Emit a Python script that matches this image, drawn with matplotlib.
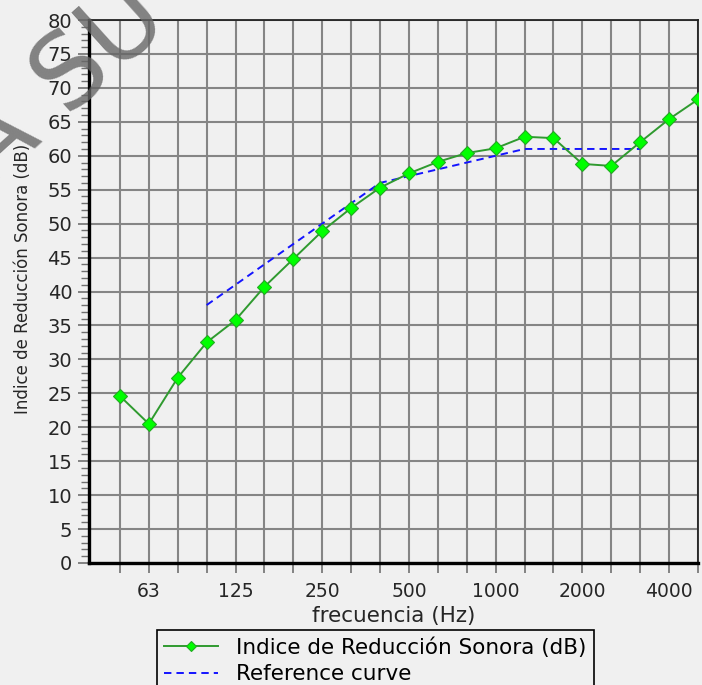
import matplotlib
matplotlib.use("Agg")
import matplotlib.pyplot as plt
from matplotlib.ticker import MultipleLocator, FixedLocator

freqs = ["50", "63", "80", "100", "125", "160", "200", "250", "315", "400", "500",
         "630", "800", "1000", "1250", "1600", "2000", "2500", "3150", "4000", "5000"]
r_values = [24.6, 20.5, 27.3, 32.5, 35.8, 40.7, 44.8, 48.9, 52.3, 55.3, 57.4,
            59.1, 60.4, 61.1, 62.8, 62.6, 58.8, 58.5, 62.0, 65.4, 68.3]
ref_freqs = ["100", "125", "160", "200", "250", "315", "400", "500", "630", "800",
             "1000", "1250", "1600", "2000", "2500", "3150"]
ref_values = [38, 41, 44, 47, 50, 53, 56, 57, 58, 59, 60, 61, 61, 61, 61, 61]
tick_labels = ["63", "125", "250", "500", "1000", "2000", "4000"]

bg = "#f0f0f0"
txt = "#262626"
W, H = 702, 685
fig = plt.figure(figsize=(W / 100, H / 100), dpi=100, facecolor=bg)
ax = fig.add_axes([89 / W, 1 - 563 / H, (698 - 89) / W, (563 - 20) / H], facecolor=bg)

xi = list(range(len(freqs)))
ref_x = [freqs.index(f) for f in ref_freqs]

ln1, = ax.plot(xi, r_values, color="#2f9a2f", lw=1.4, marker="D", markersize=7,
               markerfacecolor="#00ff00", markeredgecolor="#22aa22", markeredgewidth=0.8,
               zorder=4, label="Indice de Reducción Sonora (dB)")
ln2, = ax.plot(ref_x, ref_values, color="#1414ff", lw=1.4, ls=(0, (3.8, 2.6)), zorder=3,
               label="Reference curve")

ax.set_xlim(-1.07, 20)
ax.set_ylim(0, 80)
ax.yaxis.set_major_locator(MultipleLocator(5))
ax.yaxis.set_minor_locator(MultipleLocator(1))
ax.xaxis.set_major_locator(FixedLocator(xi))
ax.set_xticklabels([f if f in tick_labels else "" for f in freqs])

ax.grid(True, which="major", color="#858585", lw=1.5)
ax.set_axisbelow(True)

for s in ["left", "bottom"]:
    ax.spines[s].set_linewidth(2.4)
    ax.spines[s].set_color("black")
for s in ["top", "right"]:
    ax.spines[s].set_linewidth(1.3)
    ax.spines[s].set_color("#222222")

ax.tick_params(axis="y", which="major", length=8, width=1.2, color="#707070",
               labelsize=14, labelcolor=txt, pad=4)
ax.tick_params(axis="y", which="minor", length=6, width=1.0, color="#707070")
ax.tick_params(axis="x", which="major", length=7, width=1.2, color="#707070",
               labelsize=13.5, labelcolor=txt, pad=7)

ax.set_xlabel("frecuencia (Hz)", fontsize=15.5, color=txt, labelpad=3)
ax.set_ylabel("Indice de Reducción Sonora (dB)", fontsize=12, color=txt)
ax.yaxis.set_label_coords(-0.094, 0.523)

leg = fig.legend(handles=[ln1, ln2], loc="upper left",
                 bbox_to_anchor=(157 / W, 1 - 630 / H), fontsize=15.5,
                 frameon=True, fancybox=False, edgecolor="black", facecolor=bg,
                 framealpha=1, handlelength=2.5, handletextpad=0.85, markerscale=0.75,
                 borderpad=0.33, labelspacing=0.3, borderaxespad=0)
leg.get_frame().set_linewidth(1.2)

fig.text(63 / W, 1 - 85 / H, "A SU", fontsize=74, color="#666666", alpha=0.8,
         rotation=42, ha="center", va="center", zorder=10)

fig.savefig("out.png", dpi=100, facecolor=bg)
